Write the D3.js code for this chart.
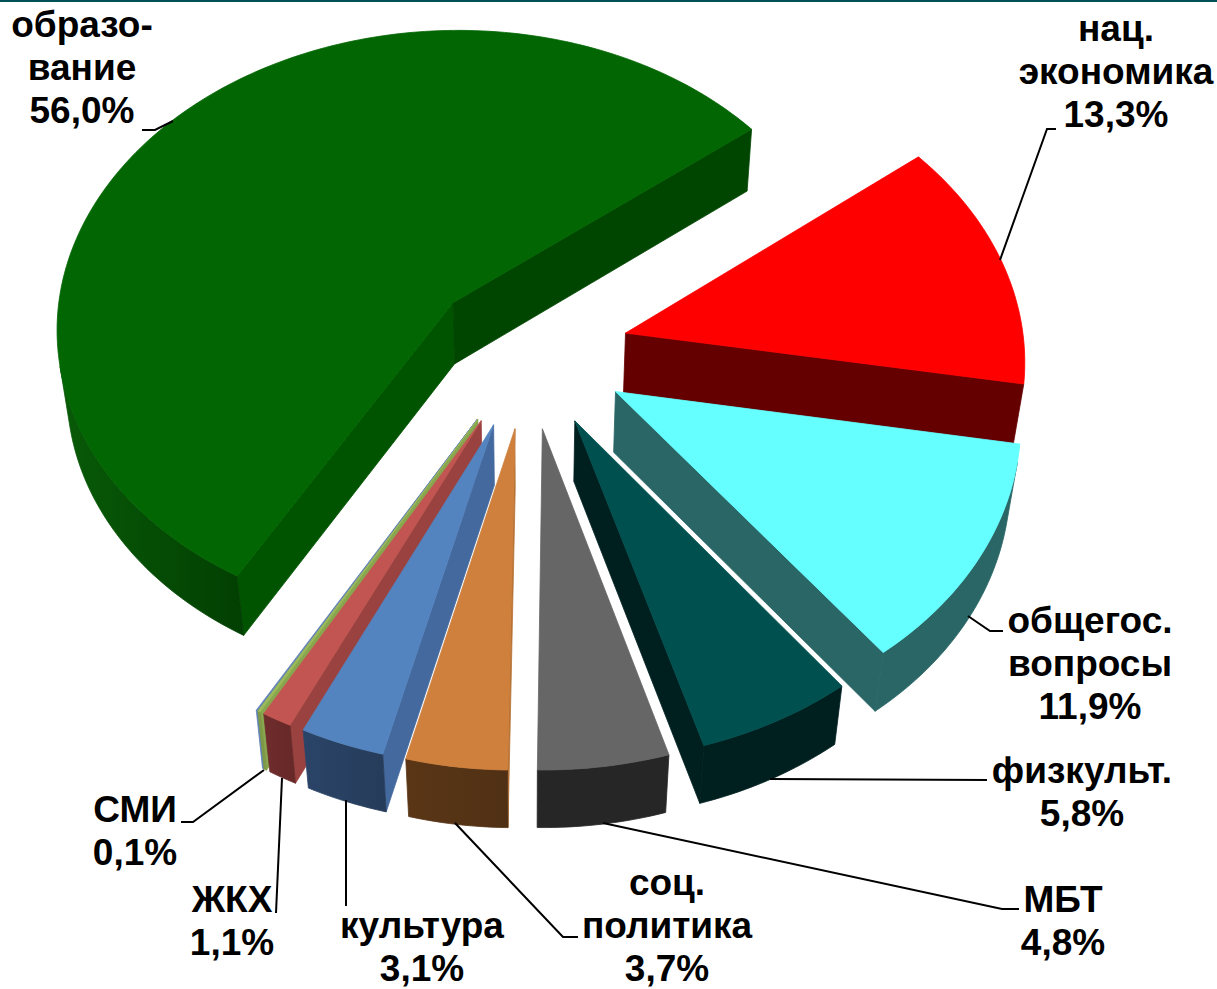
<!DOCTYPE html>
<html>
<head>
<meta charset="utf-8">
<script src="https://d3js.org/d3.v7.min.js"></script>
<style>body{margin:0;background:#fff}</style>
</head>
<body>
<div id="chart"></div>
<script>
// Chart data, clockwise from the big slice. The last sliver has no label in the source.
const values = [56.0, 13.3, 11.9, 5.8, 4.8, 3.7, 3.1, 1.1, 0.1, 0.05];
const labelLines = [
    ["образо-", "вание"], ["нац.", "экономика"], ["общегос.", "вопросы"], ["физкульт."], ["МБТ"],
    ["соц.", "политика"], ["культура"], ["ЖКХ"], ["СМИ"], []
];

// Colours: top face, start cut, end cut, rim at start, rim at end
const topColors = ["#026602", "#ff0000", "#66ffff", "#005050", "#666666", "#ce803c", "#5484bf", "#c25552", "#9bbb59", "#5f80b8"];
const cutStart = ["#005400", "#640000", "#2a6666", "#001f1f", "#262626", "#b87336", "#44699e", "#9a4240", "#88a64e", "#6a5fa0"];
const cutEnd = ["#004600", "#640000", "#2a6666", "#001f1f", "#262626", "#553316", "#283f5f", "#6b2a2a", "#7d9a45", "#5f80b8"];
const rimFrom = ["#023f02", "#640000", "#2a6666", "#001f1f", "#262626", "#503014", "#263c5a", "#672828", "#7d9a45", "#5f80b8"];
const rimTo = ["#085a08", "#640000", "#2a6666", "#001f1f", "#262626", "#5a3616", "#2a4468", "#6f2c2c", "#7d9a45", "#5f80b8"];
const drawOrder = [0, 1, 2, 3, 9, 8, 7, 6, 5, 4];

// Text and leader layout
const labelX = [82, 1116, 1090, 1082, 1063, 667, 422, 232, 135];
const labelY = [37, 41, 633, 783, 912, 895, 938, 912, 822];
const leaders = [
    [[142, 130], [155, 130], [173, 121]],
    [[1056, 129], [1047, 129], [1000, 260]],
    [[1003, 631], [990, 631], [968, 616]],
    [[987, 780], [770, 779]],
    [[1019, 909], [1002, 909], [603, 823]],
    [[578, 937], [563, 937], [455, 823]],
    [[346, 800], [346, 906]],
    [[282, 778], [276, 913]],
    [[181, 822], [193, 822], [264, 770]]
];

// 3D view of the pie
const cx = 528.3, cy = 351.8, radius = 399.3;
const tilt = 0.8553, perspective = 0.1207, thickness = 0.2375, explode = 0.2525;
const firstAngle = -2.621;

const width = 1217, height = 989;
const svg = d3.select("#chart").append("svg")
    .attr("width", width)
    .attr("height", height);

svg.append("rect").attr("width", width).attr("height", 2).attr("fill", "#005058");

// Rim shading runs left to right across each visible band
const defs = svg.append("defs");
values.forEach((v, i) => {
    const g = defs.append("linearGradient").attr("id", "rim" + i);
    g.append("stop").attr("offset", 0).attr("stop-color", rimTo[i]);
    g.append("stop").attr("offset", 1).attr("stop-color", rimFrom[i]);
});

function project(x, y, level) {
    const z = -level * thickness;
    const sy = y * Math.sin(tilt) - z * Math.cos(tilt);
    const depth = y * Math.cos(tilt) + z * Math.sin(tilt);
    const w = 1 / (1 - perspective * depth);
    return [cx + radius * x * w, cy + radius * sy * w];
}

const pie = d3.pie().sort(null).startAngle(firstAngle).endAngle(firstAngle + 2 * Math.PI);
const slices = pie(values);
const line = d3.line();

function face(p, fill) {
    svg.append("path")
        .attr("d", line(p) + "Z")
        .attr("fill", fill)
        .attr("stroke", fill)
        .attr("stroke-width", 0.8);
}

drawOrder.forEach(i => {
    const d = slices[i];
    const mid = (d.startAngle + d.endAngle) / 2;
    const ox = explode * Math.sin(mid), oy = -explode * Math.cos(mid);
    const n = Math.max(4, Math.ceil((d.endAngle - d.startAngle) / 0.02));
    const rim = level => d3.range(n + 1).map(k => {
        const t = d.startAngle + (d.endAngle - d.startAngle) * k / n;
        return project(ox + Math.sin(t), oy - Math.cos(t), level);
    });
    const top = rim(0), bottom = rim(1);
    const a0 = project(ox, oy, 0), a1 = project(ox, oy, 1);

    // Only faces turned to the viewer, then the top face over them
    const q1 = [a0, top[0], bottom[0], a1];
    if (d3.polygonArea(q1) > 0) face(q1, cutStart[i]);
    const q2 = [top[n], a0, a1, bottom[n]];
    if (d3.polygonArea(q2) > 0) face(q2, cutEnd[i]);
    const visible = d3.range(n).filter(k =>
        d3.polygonArea([top[k], top[k + 1], bottom[k + 1], bottom[k]]) > 0);
    if (visible.length) {
        const first = visible[0], last = visible[visible.length - 1] + 1;
        const band = [...top.slice(first, last + 1), ...bottom.slice(first, last + 1).reverse()];
        face(band, "url(#rim" + i + ")");
    }
    face([a0, ...top], topColors[i]);
});

// Leader lines
svg.selectAll(".leader")
    .data(leaders)
    .enter()
    .append("path")
    .attr("class", "leader")
    .attr("d", d => line(d))
    .attr("fill", "none")
    .attr("stroke", "#000")
    .attr("stroke-width", 2);

// Labels: name lines and the value with a decimal comma
labelX.forEach((x, i) => {
    const rows = [...labelLines[i], values[i].toFixed(1).replace(".", ",") + "%"];
    rows.forEach((row, r) => {
        svg.append("text")
            .attr("x", x)
            .attr("y", labelY[i] + r * 43)
            .attr("text-anchor", "middle")
            .attr("font-family", "Liberation Sans")
            .attr("font-weight", "bold")
            .attr("font-size", 37)
            .text(row);
    });
});
</script>
</body>
</html>
